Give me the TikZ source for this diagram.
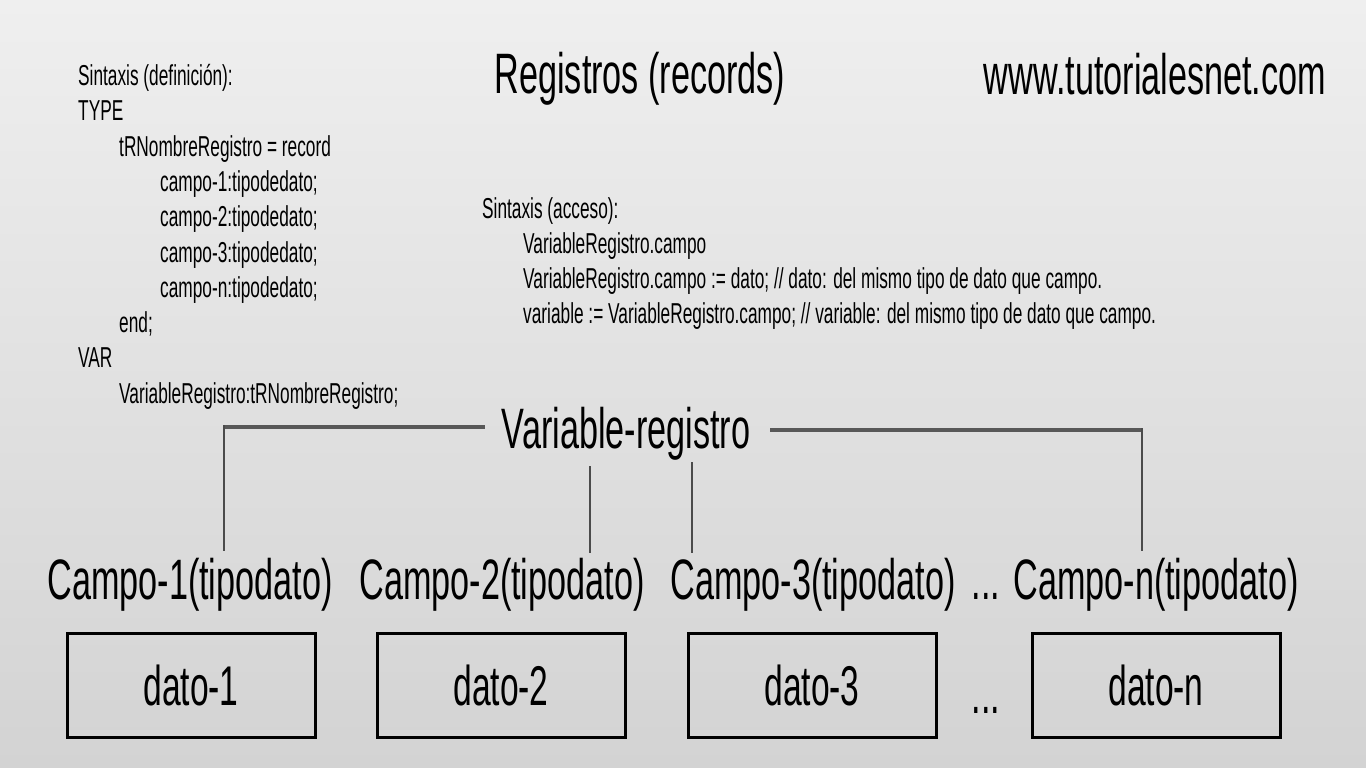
\documentclass[tikz,border=0pt]{standalone}
\usepackage{fontspec}
\setmainfont[FakeStretch=0.6]{Liberation Sans}
\usetikzlibrary{positioning, calc}
\definecolor{fondoarriba}{RGB}{239,239,239}
\definecolor{fondoabajo}{RGB}{211,211,211}
\definecolor{linea}{RGB}{88,88,88}

\tikzset{
  grande/.style={font=\fontsize{57}{60}\selectfont, inner sep=0pt, text=black},
  codigo/.style={font=\fontsize{28.8}{32}\selectfont, inner sep=0pt, anchor=base west, text=black},
  caja/.style={draw=black, line width=3pt, minimum width=248pt, minimum height=104pt,
    inner sep=0pt, font=\fontsize{56}{58}\selectfont},
  bus/.style={draw=linea, line width=4pt},
  bajada/.style={draw=linea!85!black, line width=2pt},
}

\begin{document}
\begin{tikzpicture}[x=1pt, y=-1pt]
  \useasboundingbox (0,0) rectangle (1366,768);
  \shade[top color=fondoarriba, bottom color=fondoabajo] (0,0) rectangle (1366,768);

  % cabecera
  \node[grande, anchor=base] (titulo) at (640,93) {Registros (records)};
  \node[grande, anchor=base] (web) at (1155,95) {www.tutorialesnet.com};

  % sintaxis de la definicion
  \foreach \n/\x/\t in {
    0/78/{Sintaxis (definición):},
    1/78/{TYPE},
    2/119/{tRNombreRegistro = record},
    3/160/{campo-1:tipodedato;},
    4/160/{campo-2:tipodedato;},
    5/160/{campo-3:tipodedato;},
    6/160/{campo-n:tipodedato;},
    7/119/{end;},
    8/78/{VAR},
    9/119/{VariableRegistro:tRNombreRegistro;}
  } {
    \pgfmathsetmacro{\y}{85.5+35.3*\n}
    \node[codigo] (def\n) at (\x,\y) {\t};
  }

  % sintaxis del acceso
  \foreach \n/\x/\t in {
    0/482/{Sintaxis (acceso):},
    1/523/{VariableRegistro.campo},
    2/523/{VariableRegistro.campo := dato; // dato: del mismo tipo de dato que campo.},
    3/523/{variable := VariableRegistro.campo; // variable: del mismo tipo de dato que campo.}
  } {
    \pgfmathsetmacro{\y}{218+35*\n}
    \node[codigo] (acc\n) at (\x,\y) {\t};
  }

  % registro y sus campos
  \node[grande, anchor=base] (vr) at (626,448) {Variable-registro};
  \node[grande, anchor=base] (c1) at (190,599) {Campo-1(tipodato)};
  \node[grande, anchor=base] (c2) at (502,599) {Campo-2(tipodato)};
  \node[grande, anchor=base] (c3) at (813,599) {Campo-3(tipodato)};
  \node[grande, anchor=base] (puntos1) at (986,599) {...};
  \node[grande, anchor=base] (cn) at (1156,599) {Campo-n(tipodato)};

  \node[caja] (d1) at (191,685) {dato-1};
  \node[caja] (d2) at (501,685) {dato-2};
  \node[caja] (d3) at (812,685) {dato-3};
  \node[grande, anchor=base] (puntos2) at (986,713) {...};
  \node[caja] (dn) at (1156,685) {dato-n};

  \coordinate (j1) at (224,427);
  \coordinate (j2) at (590,466);
  \coordinate (j3) at (692,462);
  \coordinate (j4) at (1142,430);

  \draw[bus] ([xshift=-17pt]vr.west |- j1) -- (j1);
  \draw[bus] ([xshift=20pt]vr.east |- j4) -- (j4);
  \draw[bajada] ([yshift=2pt]j1) -- ([yshift=7pt]j1 |- c1.north);
  \draw[bajada] (j2) -- ([yshift=5pt]j2 |- c2.north);
  \draw[bajada] (j3) -- ([yshift=5pt]j3 |- c3.north);
  \draw[bajada] ([yshift=2pt]j4) -- ([yshift=7pt]j4 |- cn.north);
\end{tikzpicture}
\end{document}
